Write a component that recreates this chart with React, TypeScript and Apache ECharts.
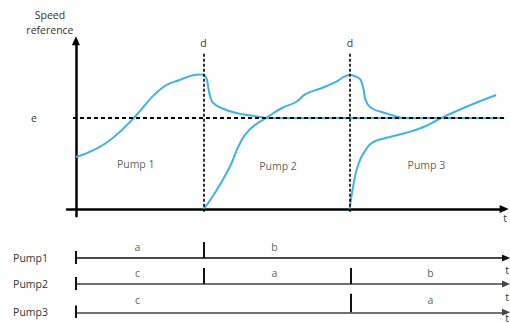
import React, { useEffect, useRef } from 'react';
import * as echarts from 'echarts';

// time axis: d1 = 10, d2 = 21.5 ; speed: e = 100
const switchTimes = [10, 21.5];
const eLevel = 100;

const curve1T = [0, 1.5, 2.89, 4.61, 6.56, 8.13, 9.92, 10.23, 10.39, 10.55, 10.78, 11.41, 12.58, 13.98, 15.16, 33.6];
const curve1V = [57.1, 65.5, 78.0, 101.1, 130.8, 141.8, 147.8, 144.0, 133.0, 123.1, 116.5, 111.0, 105.5, 102.2, 100, 100];

const curve2T = [10, 10.7, 12.03, 12.81, 13.59, 14.92, 16.17, 17.27, 18.05, 19.3, 20.39, 21.02, 21.48, 22.03, 22.34, 22.58, 22.73, 23.2, 23.98, 24.77, 25.86, 33.6];
const curve2V = [0, 13.2, 45.1, 70.3, 86.8, 100, 111.0, 117.6, 126.4, 133.0, 139.6, 145.1, 147.3, 145.1, 141.8, 130.8, 119.8, 111.0, 106.6, 103.3, 100, 100];

const curve3T = [21.48, 21.8, 22.19, 22.73, 23.2, 24.3, 25.86, 27.27, 28.67, 30.78, 32.97];
const curve3V = [0, 28.6, 50.5, 64.8, 72.5, 78.0, 83.5, 90.1, 100, 113.2, 125.3];

const pumpNames = ['Pump 1', 'Pump 2', 'Pump 3'];
const pumpLabelT = [4.69, 15.86, 27.5];
const pumpLabelV = [49.5, 47.3, 48.4];

const rowNames = ['Pump1', 'Pump2', 'Pump3'];
const rowLabels = [['a', 'b'], ['c', 'a', 'b'], ['c', 'a']];
const rowLabelT = [[4.8, 15.5], [4.8, 15.5, 27.7], [4.8, 27.7]];
const rowTicks = [[0, 10], [0, 10, 21.5], [0, 21.5]];

const BLUE = '#3fb3e5';
const FONT = 'Open Sans';
const TXT = '#333';
const FS = 10.5;

const zip = (a: number[], b: number[]) => a.map((v, i) => [v, b[i]]);

function buildOption() {
  const rowTops = [234, 260, 289];
  const rowBottoms = [57, 31, 2];
  const rowLabelH = [11, 11, 13];
  const rowTickH = [16, 16, 19];
  const rowNamePad = [6, 7, 0];
  const rowAxisColor = ['#111', '#444', '#444'];

  const grid: any[] = [{ left: 67, right: 4, top: 40.65, bottom: 106.7 }];
  const xAxis: any[] = [
    {
      gridIndex: 0, type: 'value', min: -0.7, max: 33.6,
      axisLine: { onZero: true, lineStyle: { color: '#000', width: 2.5 }, symbol: ['none', 'triangle'], symbolSize: [8, 9] },
      axisTick: { show: false }, axisLabel: { show: false }, splitLine: { show: false },
      name: 't', nameLocation: 'end', nameGap: 1,
      nameTextStyle: { fontFamily: FONT, fontSize: FS, color: TXT, align: 'center', verticalAlign: 'top', padding: [3, 0, 0, 0] },
    },
  ];
  const yAxis: any[] = [
    {
      gridIndex: 0, type: 'value', min: -8, max: 185,
      axisLine: { onZero: true, lineStyle: { color: '#000', width: 2.5 }, symbol: ['none', 'triangle'], symbolSize: [8, 9] },
      axisTick: { show: false }, axisLabel: { show: false }, splitLine: { show: false },
      name: 'Speed\nreference', nameLocation: 'end', nameGap: 3,
      nameTextStyle: { fontFamily: FONT, fontSize: FS, color: TXT, lineHeight: 15, align: 'center', verticalAlign: 'bottom', padding: [0, 52, 0, 0] },
    },
  ];
  const series: any[] = [
    {
      type: 'line', xAxisIndex: 0, yAxisIndex: 0, z: 1, data: [[0, 0]], symbol: 'none',
      lineStyle: { opacity: 0 }, silent: true,
      markLine: {
        silent: true, symbol: ['none', 'none'], animation: false,
        lineStyle: { color: '#000', type: [4, 3], width: 1.8 },
        data: [
          [
            { coord: [-0.23, eLevel], label: { show: true, position: 'start', formatter: 'e', distance: 36, fontFamily: FONT, fontSize: FS, color: TXT } },
            { coord: [33.6, eLevel] },
          ],
          ...switchTimes.map((t) => [
            { coord: [t, -3], lineStyle: { type: [3, 2], width: 1.6 }, label: { show: true, position: 'end', formatter: 'd', distance: 4, fontFamily: FONT, fontSize: FS, color: TXT } },
            { coord: [t, 172] },
          ]),
        ],
      },
    },
    ...[zip(curve1T, curve1V), zip(curve2T, curve2V), zip(curve3T, curve3V)].map((d) => ({
      type: 'line', xAxisIndex: 0, yAxisIndex: 0, z: 3, data: d, smooth: 0.5,
      symbol: 'none', lineStyle: { color: BLUE, width: 2 },
    })),
    {
      type: 'scatter', xAxisIndex: 0, yAxisIndex: 0, symbolSize: 1, itemStyle: { color: 'rgba(0,0,0,0)' },
      data: pumpNames.map((n, i) => [pumpLabelT[i], pumpLabelV[i], n]),
      label: { show: true, position: 'inside', formatter: (p: any) => p.data[2], fontFamily: FONT, fontSize: FS, color: TXT },
    },
  ];

  rowNames.forEach((name, r) => {
    const gi = r + 1;
    grid.push({ left: 76, right: 4, top: rowTops[r], bottom: rowBottoms[r] });
    xAxis.push({
      gridIndex: gi, type: 'value', min: 0, max: 33.6,
      axisLine: { onZero: true, lineStyle: { color: rowAxisColor[r], width: 1.6 }, symbol: ['none', 'triangle'], symbolSize: [7, 8] },
      axisTick: { show: false }, axisLabel: { show: false }, splitLine: { show: false },
      name: 't', nameLocation: 'end', nameGap: 1,
      nameTextStyle: { fontFamily: FONT, fontSize: FS, color: TXT, align: 'center', verticalAlign: 'top', padding: [rowNamePad[r], 0, 0, 0] },
    });
    yAxis.push({
      gridIndex: gi, type: 'value', min: -8, max: 24, interval: 8,
      axisLine: { show: false }, axisTick: { show: false }, splitLine: { show: false },
      axisLabel: { formatter: (v: number) => (v === 0 ? name : ''), margin: 28, fontFamily: FONT, fontSize: FS, color: TXT },
    });
    series.push({
      type: 'scatter', xAxisIndex: gi, yAxisIndex: gi, symbolSize: 1, itemStyle: { color: 'rgba(0,0,0,0)' },
      data: rowLabels[r].map((l, i) => [rowLabelT[r][i], rowLabelH[r], l]),
      label: { show: true, position: 'inside', formatter: (p: any) => p.data[2], fontFamily: FONT, fontSize: FS, color: TXT },
      markLine: {
        silent: true, symbol: ['none', 'none'], animation: false,
        lineStyle: { color: '#111', type: 'solid', width: 2 },
        label: { show: false },
        data: rowTicks[r].map((t, i) => [
          { coord: [t, i === 0 ? -6 : 0] },
          { coord: [t, i === 0 ? 7 : rowTickH[r]] },
        ]),
      },
    });
  });

  return { animation: false, backgroundColor: '#fff', grid, xAxis, yAxis, series };
}

export default function App() {
  const ref = useRef<HTMLDivElement>(null);
  useEffect(() => {
    const chart = echarts.init(ref.current!, null, { renderer: 'svg' });
    chart.setOption(buildOption() as any);
    return () => chart.dispose();
  }, []);
  return <div ref={ref} style={{ position: 'fixed', left: 0, top: 0, width: 510, height: 323, background: '#fff' }} />;
}
